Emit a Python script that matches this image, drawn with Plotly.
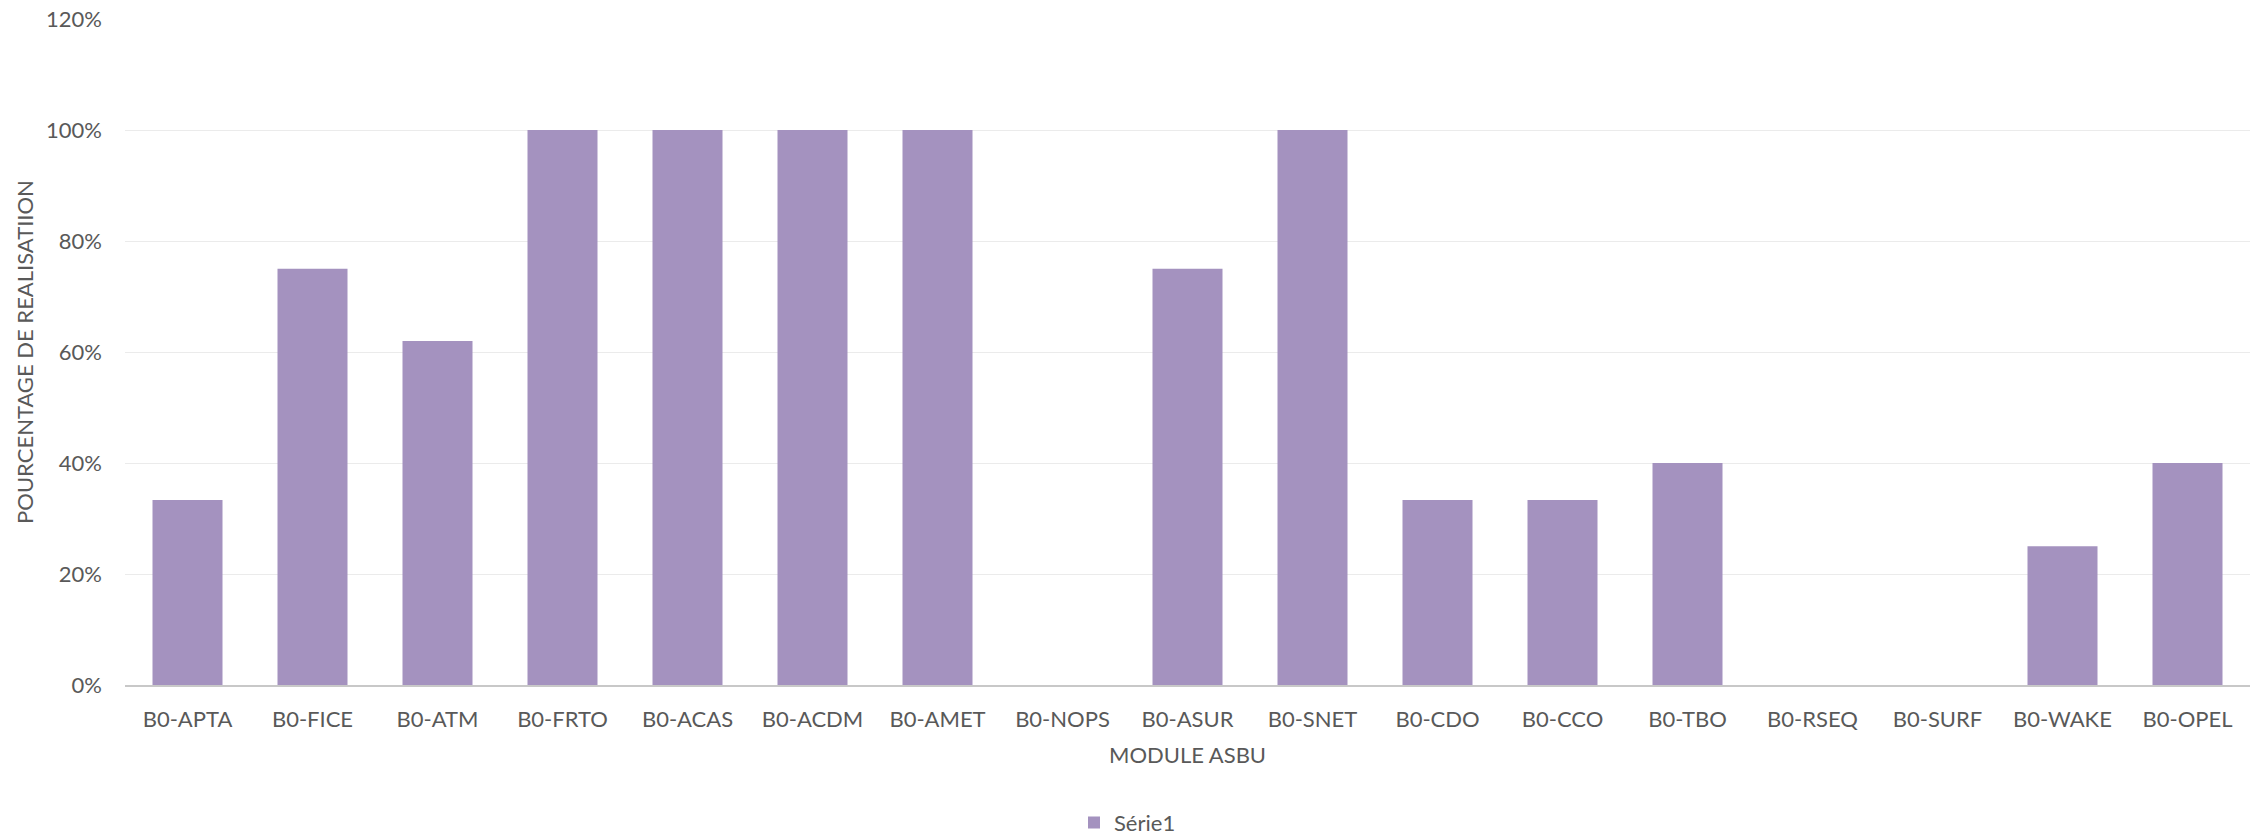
import plotly.graph_objects as go

categories = ["B0-APTA", "B0-FICE", "B0-ATM", "B0-FRTO", "B0-ACAS", "B0-ACDM", "B0-AMET",
              "B0-NOPS", "B0-ASUR", "B0-SNET", "B0-CDO", "B0-CCO", "B0-TBO", "B0-RSEQ",
              "B0-SURF", "B0-WAKE", "B0-OPEL"]
values = [0.3333, 0.75, 0.62, 1.0, 1.0, 1.0, 1.0,
          0.0, 0.75, 1.0, 0.3333, 0.3333, 0.40, 0.0,
          0.0, 0.25, 0.40]
series_name = "Série1"
y_ticks = [0, 0.2, 0.4, 0.6, 0.8, 1.0, 1.2]

FONT = "Lato, 'Liberation Sans', sans-serif"
TXT = "#595959"

fig = go.Figure()
fig.add_trace(go.Bar(
    x=categories, y=values, name=series_name,
    marker=dict(color="#A492BF", line=dict(width=0)),
    showlegend=True,
))

fig.update_layout(
    width=2255, height=836,
    margin=dict(l=125, r=5, t=17, b=151),
    paper_bgcolor="white", plot_bgcolor="white",
    font=dict(family=FONT, size=22, color=TXT),
    bargap=0.44,
    legend=dict(orientation="h", xref="container", yref="container",
                x=0.5, xanchor="center", y=0.016, yanchor="middle",
                font=dict(size=22, color=TXT), itemwidth=30),
)
fig.update_xaxes(
    showgrid=False, showline=True, linecolor="#C8C8C8", linewidth=2,
    ticks="", ticklabelstandoff=14,
    tickfont=dict(size=22, color=TXT),
    title=dict(text="MODULE ASBU", font=dict(size=22, color=TXT), standoff=16),
)
fig.update_yaxes(
    range=[0, 1.2], tickvals=y_ticks, tickformat=".0%",
    showgrid=True, gridcolor="#EBEBEB", gridwidth=1,
    zeroline=False, showline=False, ticks="", ticklabelstandoff=22,
    tickfont=dict(size=22, color=TXT),
    title=dict(text="POURCENTAGE DE REALISATIION", font=dict(size=22, color=TXT), standoff=6),
)

fig.write_html("out.html")
